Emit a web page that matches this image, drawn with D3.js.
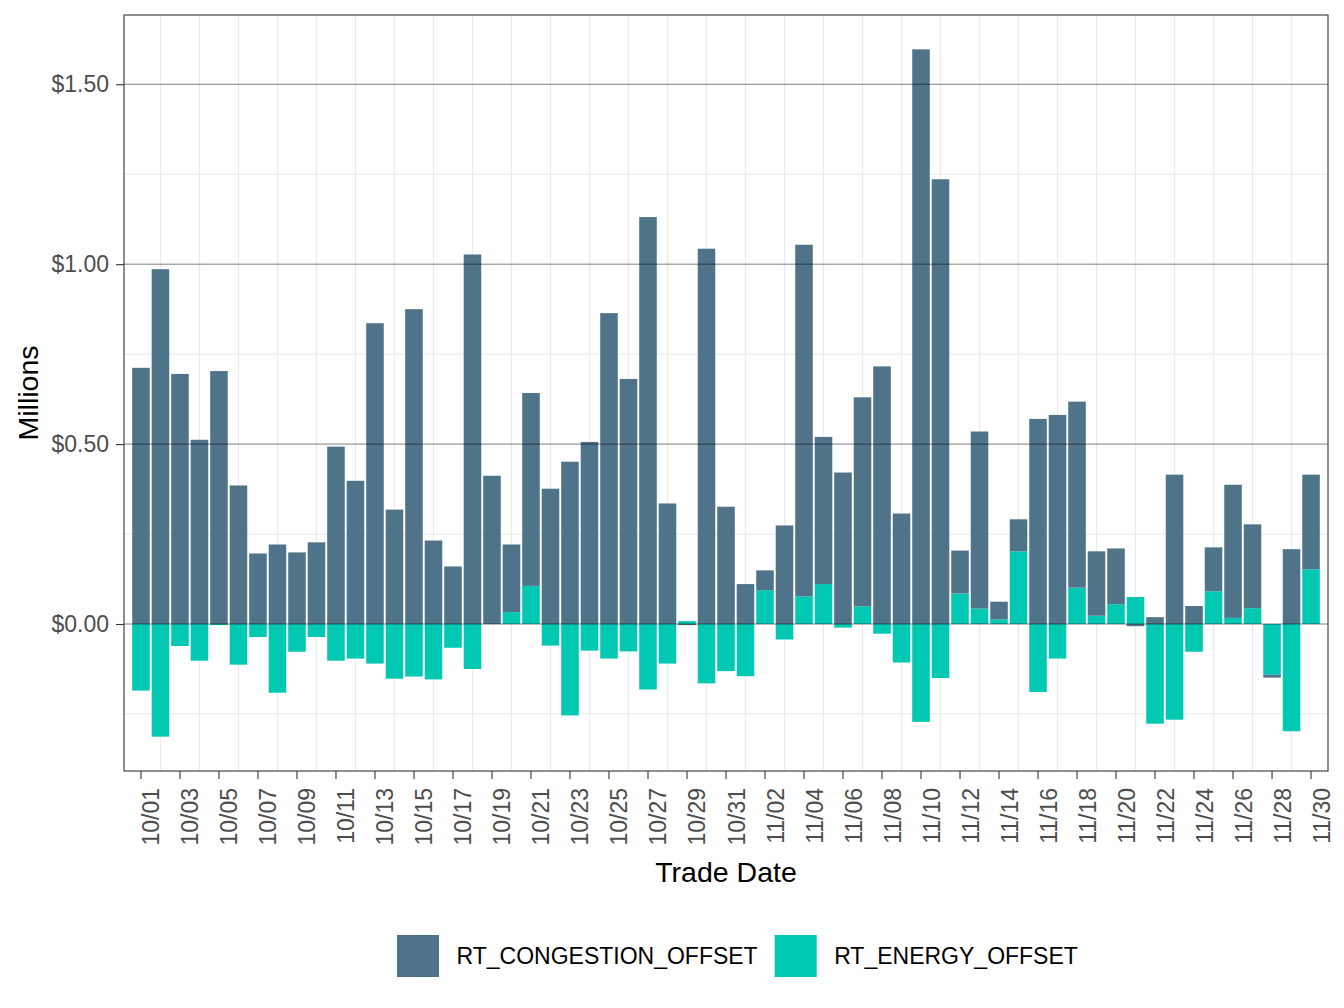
<!DOCTYPE html>
<html>
<head>
<meta charset="utf-8">
<script src="https://cdn.jsdelivr.net/npm/d3@7"></script>
<style>
	body { margin: 0; background: #fff; }
	text { font-family: "Liberation Sans", Arial, sans-serif; }
	.tickText { fill: #4d4d4d; font-size: 23px; }
	.axisTitle { fill: #000; font-size: 28.5px; }
	.legendText { fill: #000; font-size: 23px; }
</style>
</head>
<body>
<div id="chart"></div>
<script>

var tradeDates = ['10/01','10/02','10/03','10/04','10/05','10/06','10/07','10/08','10/09','10/10',
	'10/11','10/12','10/13','10/14','10/15','10/16','10/17','10/18','10/19','10/20',
	'10/21','10/22','10/23','10/24','10/25','10/26','10/27','10/28','10/29','10/30','10/31',
	'11/01','11/02','11/03','11/04','11/05','11/06','11/07','11/08','11/09','11/10',
	'11/11','11/12','11/13','11/14','11/15','11/16','11/17','11/18','11/19','11/20',
	'11/21','11/22','11/23','11/24','11/25','11/26','11/27','11/28','11/29','11/30'];

// millions
var congestionOffset = [0.712, 0.986, 0.695, 0.512, 0.703, 0.385, 0.196, 0.221, 0.199, 0.227,
	0.493, 0.398, 0.836, 0.318, 0.875, 0.232, 0.160, 1.027, 0.412, 0.188,
	0.536, 0.376, 0.451, 0.506, 0.864, 0.681, 1.131, 0.335, -0.003, 1.043, 0.326,
	0.111, 0.055, 0.274, 0.977, 0.409, 0.421, 0.581, 0.716, 0.307, 1.597,
	1.236, 0.119, 0.492, 0.049, 0.089, 0.570, 0.581, 0.517, 0.179, 0.155,
	-0.006, 0.019, 0.415, 0.050, 0.122, 0.370, 0.233, -0.008, 0.208, 0.263];

var energyOffset = [-0.185, -0.313, -0.061, -0.102, -0.003, -0.113, -0.036, -0.191, -0.077, -0.036,
	-0.102, -0.096, -0.110, -0.152, -0.146, -0.154, -0.066, -0.125, 0.000, 0.033,
	0.106, -0.060, -0.254, -0.074, -0.096, -0.076, -0.182, -0.110, 0.008, -0.165, -0.131,
	-0.145, 0.094, -0.043, 0.077, 0.111, -0.010, 0.049, -0.027, -0.107, -0.272,
	-0.150, 0.085, 0.043, 0.013, 0.202, -0.189, -0.096, 0.101, 0.023, 0.055,
	0.075, -0.277, -0.266, -0.077, 0.091, 0.017, 0.044, -0.141, -0.298, 0.152];

var seriesNames = ['RT_CONGESTION_OFFSET', 'RT_ENERGY_OFFSET'];
var yTicks = [0, 0.5, 1, 1.5];
var yMinorTicks = [-0.25, 0.25, 0.75, 1.25];

var options = {
	w: 1344,
	h: 1008,
	panel: { left: 124, right: 1328, top: 15, bottom: 771 },
	colors: { RT_CONGESTION_OFFSET: '#4f7489', RT_ENERGY_OFFSET: '#00c8b3' },
	legend: { x: 397, y: 935, key: 42, textGap: 17.5, itemGap: 17 }
};

function draw() {
	var p = options.panel;

	var rows = tradeDates.map(function (d, i) {
		return { date: d, RT_CONGESTION_OFFSET: congestionOffset[i], RT_ENERGY_OFFSET: energyOffset[i] };
	});

	// energy goes next to zero, congestion stacks outside it (same as ggplot)
	var stacked = d3.stack()
		.keys(['RT_ENERGY_OFFSET', 'RT_CONGESTION_OFFSET'])
		.offset(d3.stackOffsetDiverging)(rows);

	var lo = d3.min(stacked, function (s) { return d3.min(s, function (d) { return d[0]; }); });
	var hi = d3.max(stacked, function (s) { return d3.max(s, function (d) { return d[1]; }); });
	var pad = (hi - lo) * 0.05;

	var x = d3.scaleBand()
		.domain(tradeDates)
		.range([p.left, p.right])
		.paddingInner(0.1)
		.paddingOuter(0.42);

	var y = d3.scaleLinear()
		.domain([lo - pad, hi + pad])
		.range([p.bottom, p.top]);

	var svg = d3.select('#chart')
		.append('svg')
		.attr('width', options.w)
		.attr('height', options.h);

	svg.append('rect')
		.attr('x', p.left).attr('y', p.top)
		.attr('width', p.right - p.left).attr('height', p.bottom - p.top)
		.attr('fill', '#fff');

	// grid
	var oddDates = tradeDates.filter(function (d, i) { return i % 2 === 1; });
	svg.append('g').selectAll('line')
		.data(oddDates)
		.enter().append('line')
		.attr('x1', function (d) { return x(d) + x.bandwidth() / 2; })
		.attr('x2', function (d) { return x(d) + x.bandwidth() / 2; })
		.attr('y1', p.top).attr('y2', p.bottom)
		.attr('stroke', '#ebebeb').attr('stroke-width', 1.3);

	svg.append('g').selectAll('line')
		.data(yMinorTicks)
		.enter().append('line')
		.attr('x1', p.left).attr('x2', p.right)
		.attr('y1', function (d) { return y(d); })
		.attr('y2', function (d) { return y(d); })
		.attr('stroke', '#ebebeb').attr('stroke-width', 1.3);

	// bars
	svg.append('g').selectAll('g')
		.data(stacked)
		.enter().append('g')
		.attr('fill', function (s) { return options.colors[s.key]; })
		.selectAll('rect')
		.data(function (s) { return s; })
		.enter().append('rect')
		.attr('x', function (d) { return x(d.data.date); })
		.attr('width', x.bandwidth())
		.attr('y', function (d) { return y(Math.max(d[0], d[1])); })
		.attr('height', function (d) { return Math.abs(y(d[0]) - y(d[1])); });

	// reference lines over the bars
	svg.append('g').selectAll('line')
		.data(yTicks)
		.enter().append('line')
		.attr('x1', p.left).attr('x2', p.right)
		.attr('y1', function (d) { return y(d); })
		.attr('y2', function (d) { return y(d); })
		.attr('stroke', '#000').attr('stroke-opacity', 0.5).attr('stroke-width', 1);

	// panel border
	svg.append('rect')
		.attr('x', p.left).attr('y', p.top)
		.attr('width', p.right - p.left).attr('height', p.bottom - p.top)
		.attr('fill', 'none').attr('stroke', '#333').attr('stroke-width', 1.1);

	// y axis
	var yAxis = svg.append('g')
		.attr('transform', 'translate(' + p.left + ',0)')
		.call(d3.axisLeft(y).tickValues(yTicks).tickFormat(d3.format('$.2f')).tickSize(8).tickPadding(7));
	yAxis.select('.domain').remove();
	yAxis.selectAll('.tick line').attr('stroke', '#333').attr('stroke-width', 1.1);
	yAxis.selectAll('.tick text')
		.attr('class', 'tickText')
		.attr('font-size', null).attr('font-family', null)
		.attr('fill', null);

	// x axis, labels every other day
	var evenDates = tradeDates.filter(function (d, i) { return i % 2 === 0; });
	var xAxis = svg.append('g')
		.attr('transform', 'translate(0,' + p.bottom + ')')
		.call(d3.axisBottom(x).tickValues(evenDates).tickSize(8).tickSizeOuter(0));
	xAxis.select('.domain').remove();
	xAxis.selectAll('.tick line').attr('stroke', '#333').attr('stroke-width', 1.1);
	xAxis.selectAll('.tick text')
		.attr('class', 'tickText')
		.attr('font-size', null).attr('font-family', null).attr('fill', null)
		.attr('text-anchor', 'end')
		.attr('dy', null)
		.attr('y', 0)
		.attr('transform', 'translate(18.5,17) rotate(-90)');

	// titles
	svg.append('text')
		.attr('class', 'axisTitle')
		.attr('x', (p.left + p.right) / 2)
		.attr('y', 882)
		.attr('text-anchor', 'middle')
		.text('Trade Date');

	svg.append('text')
		.attr('class', 'axisTitle')
		.attr('transform', 'translate(38,' + (p.top + p.bottom) / 2 + ') rotate(-90)')
		.attr('text-anchor', 'middle')
		.text('Millions');

	// legend
	var lg = options.legend;
	var cx = lg.x;
	seriesNames.forEach(function (name) {
		svg.append('rect')
			.attr('x', cx).attr('y', lg.y)
			.attr('width', lg.key).attr('height', lg.key)
			.attr('fill', options.colors[name]);
		var t = svg.append('text')
			.attr('class', 'legendText')
			.attr('x', cx + lg.key + lg.textGap)
			.attr('y', lg.y + lg.key / 2)
			.attr('dy', '.35em')
			.text(name);
		cx += lg.key + lg.textGap + t.node().getComputedTextLength() + lg.itemGap;
	});
}

draw();
</script>
</body>
</html>
